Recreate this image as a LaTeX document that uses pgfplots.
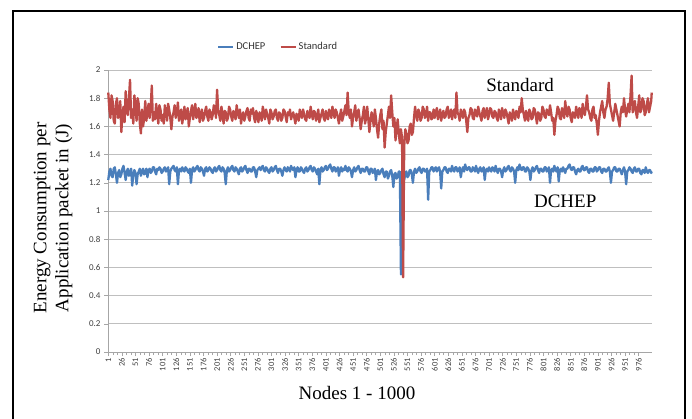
\documentclass[border=0pt]{standalone}
\usepackage{fontspec}
\setmainfont{Liberation Serif}
\newfontfamily\calfont{Carlito}
\usepackage{pgfplots}
\pgfplotsset{compat=1.18}
\definecolor{dblue}{HTML}{4A7EBB}
\definecolor{sred}{HTML}{BE4B48}
\definecolor{gridc}{HTML}{BFBFBF}
\definecolor{axc}{HTML}{A6A6A6}

\begin{document}
\begin{tikzpicture}
\useasboundingbox (0pt,0pt) rectangle (692pt,418pt);
\fill[white] (0pt,0pt) rectangle (692pt,418pt);
\draw[line width=2.2pt] (13pt,-5pt) -- (13pt,407pt) -- (685pt,407pt) -- (685pt,-5pt);
\begin{axis}[
  at={(108pt,66pt)}, anchor=south west, scale only axis,
  width=544pt, height=282pt,
  xmin=0.5, xmax=1000.5, ymin=0, ymax=2,
  axis x line*=bottom, axis y line*=left,
  axis line style={axc, line width=0.8pt, -},
  ytick={0,0.2,0.4,0.6,0.8,1,1.2,1.4,1.6,1.8,2},
  xtick={1,26,...,976},
  minor x tick num=2,
  ymajorgrids,
  major grid style={gridc, line width=0.9pt},
  tick align=outside, major tick length=4pt, minor tick length=3pt,
  tick style={axc, line width=0.6pt},
  xticklabel style={rotate=90, anchor=east, font=\calfont\fontsize{8.5}{9}\selectfont, text=black!75, inner sep=2pt},
  yticklabel style={font=\calfont\fontsize{9}{10}\selectfont, text=black!75},
  /pgf/number format/assume math mode=true,
  /pgf/number format/set thousands separator={},
  legend style={at={(0.3125,1.0816)}, anchor=center, draw=none, fill=none,
    font=\calfont\fontsize{10.5}{12}\selectfont, text=black!80,
    /tikz/every even column/.append style={column sep=12pt}},
  legend columns=2,
  legend image code/.code={\draw[#1] (0pt,0pt) -- (15pt,0pt);},
  clip=false,
]
\addplot[dblue, line width=2.3pt, line join=round] coordinates {
(1,1.22) (3,1.28) (5,1.30) (7,1.25) (9,1.24) (11,1.30) (13,1.31) (15,1.26) (17,1.20) (19,1.27)
(21,1.29) (23,1.24) (25,1.26) (27,1.30) (29,1.32) (31,1.27) (33,1.22) (35,1.28) (37,1.30) (39,1.25)
(41,1.27) (43,1.30) (45,1.18) (47,1.26) (49,1.29) (51,1.27) (53,1.19) (55,1.26) (57,1.28) (59,1.30)
(61,1.25) (63,1.28) (65,1.30) (67,1.26) (69,1.27) (71,1.30) (73,1.24) (75,1.29) (77,1.30) (79,1.27)
(81,1.28) (83,1.31) (85,1.31) (87,1.28) (89,1.26) (91,1.30) (93,1.29) (95,1.31) (97,1.30) (99,1.27)
(101,1.28) (103,1.30) (105,1.31) (107,1.28) (109,1.29) (111,1.31) (113,1.19) (115,1.28) (117,1.30) (119,1.31)
(121,1.32) (123,1.29) (125,1.28) (127,1.31) (129,1.19) (131,1.29) (133,1.30) (135,1.28) (137,1.31) (139,1.29)
(141,1.28) (143,1.31) (145,1.30) (147,1.28) (149,1.27) (151,1.30) (153,1.20) (155,1.29) (157,1.31) (159,1.28)
(161,1.29) (163,1.31) (165,1.32) (167,1.29) (169,1.28) (171,1.31) (173,1.30) (175,1.28) (177,1.25) (179,1.30)
(181,1.31) (183,1.28) (185,1.29) (187,1.31) (189,1.30) (191,1.28) (193,1.27) (195,1.30) (197,1.31) (199,1.28)
(201,1.29) (203,1.31) (205,1.32) (207,1.29) (209,1.28) (211,1.31) (213,1.30) (215,1.27) (217,1.19) (219,1.29)
(221,1.31) (223,1.28) (225,1.29) (227,1.31) (229,1.32) (231,1.29) (233,1.28) (235,1.31) (237,1.30) (239,1.28)
(241,1.26) (243,1.30) (245,1.31) (247,1.28) (249,1.29) (251,1.31) (253,1.32) (255,1.29) (257,1.27) (259,1.30)
(261,1.30) (263,1.28) (265,1.28) (267,1.31) (269,1.31) (271,1.28) (273,1.24) (275,1.29) (277,1.30) (279,1.31)
(281,1.29) (283,1.31) (285,1.32) (287,1.29) (289,1.28) (291,1.31) (293,1.30) (295,1.28) (297,1.27) (299,1.30)
(301,1.31) (303,1.28) (305,1.29) (307,1.31) (309,1.32) (311,1.29) (313,1.27) (315,1.30) (317,1.30) (319,1.28)
(321,1.25) (323,1.29) (325,1.31) (327,1.29) (329,1.28) (331,1.31) (333,1.30) (335,1.28) (337,1.32) (339,1.30)
(341,1.29) (343,1.31) (345,1.24) (347,1.29) (349,1.31) (351,1.28) (353,1.28) (355,1.31) (357,1.30) (359,1.28)
(361,1.27) (363,1.30) (365,1.31) (367,1.28) (369,1.29) (371,1.31) (373,1.32) (375,1.29) (377,1.28) (379,1.31)
(381,1.30) (383,1.28) (385,1.26) (387,1.30) (389,1.19) (391,1.29) (393,1.31) (395,1.28) (397,1.29) (399,1.31)
(401,1.32) (403,1.29) (405,1.30) (407,1.32) (409,1.33) (411,1.30) (413,1.28) (415,1.31) (417,1.31) (419,1.28)
(421,1.29) (423,1.31) (425,1.25) (427,1.29) (429,1.31) (431,1.28) (433,1.30) (435,1.29) (437,1.32) (439,1.29)
(441,1.28) (443,1.31) (445,1.30) (447,1.28) (449,1.24) (451,1.29) (453,1.31) (455,1.28) (457,1.29) (459,1.31)
(461,1.32) (463,1.29) (465,1.27) (467,1.30) (469,1.30) (471,1.28) (473,1.28) (475,1.31) (477,1.31) (479,1.28)
(481,1.26) (483,1.30) (485,1.30) (487,1.27) (489,1.28) (491,1.30) (493,1.22) (495,1.28) (497,1.29) (499,1.26)
(501,1.27) (503,1.29) (505,1.30) (507,1.26) (509,1.24) (511,1.28) (513,1.28) (515,1.23) (517,1.25) (519,1.28)
(521,1.29) (523,1.25) (525,1.17) (527,1.26) (529,1.27) (531,1.23) (533,1.24) (535,1.28) (537,1.28) (539,0.55)
(541,1.26) (543,1.28) (545,1.22) (547,1.27) (549,1.28) (551,1.24) (553,1.25) (555,1.29) (557,1.29) (559,1.26)
(561,1.20) (563,1.28) (565,1.30) (567,1.27) (569,1.28) (571,1.30) (573,1.31) (575,1.28) (577,1.27) (579,1.30)
(581,1.30) (583,1.28) (585,1.28) (587,1.30) (589,1.08) (591,1.28) (593,1.29) (595,1.31) (597,1.31) (599,1.28)
(601,1.30) (603,1.31) (605,1.28) (607,1.30) (609,1.31) (611,1.28) (613,1.16) (615,1.28) (617,1.29) (619,1.31)
(621,1.31) (623,1.28) (625,1.27) (627,1.30) (629,1.30) (631,1.28) (633,1.32) (635,1.29) (637,1.28) (639,1.31)
(641,1.31) (643,1.28) (645,1.29) (647,1.31) (649,1.24) (651,1.29) (653,1.31) (655,1.28) (657,1.33) (659,1.30)
(661,1.29) (663,1.31) (665,1.31) (667,1.28) (669,1.28) (671,1.31) (673,1.30) (675,1.28) (677,1.32) (679,1.29)
(681,1.27) (683,1.30) (685,1.31) (687,1.28) (689,1.29) (691,1.31) (693,1.22) (695,1.29) (697,1.30) (699,1.28)
(701,1.31) (703,1.29) (705,1.28) (707,1.31) (709,1.30) (711,1.28) (713,1.32) (715,1.29) (717,1.27) (719,1.30)
(721,1.30) (723,1.28) (725,1.24) (727,1.29) (729,1.31) (731,1.28) (733,1.29) (735,1.31) (737,1.32) (739,1.29)
(741,1.28) (743,1.31) (745,1.30) (747,1.28) (749,1.20) (751,1.29) (753,1.31) (755,1.29) (757,1.33) (759,1.30)
(761,1.29) (763,1.31) (765,1.31) (767,1.28) (769,1.28) (771,1.31) (773,1.30) (775,1.28) (777,1.22) (779,1.29)
(781,1.31) (783,1.28) (785,1.29) (787,1.31) (789,1.32) (791,1.29) (793,1.27) (795,1.30) (797,1.30) (799,1.28)
(801,1.28) (803,1.31) (805,1.31) (807,1.28) (809,1.29) (811,1.31) (813,1.20) (815,1.29) (817,1.30) (819,1.28)
(821,1.32) (823,1.29) (825,1.28) (827,1.31) (829,1.21) (831,1.29) (833,1.30) (835,1.28) (837,1.31) (839,1.29)
(841,1.27) (843,1.30) (845,1.30) (847,1.32) (849,1.33) (851,1.30) (853,1.29) (855,1.31) (857,1.31) (859,1.28)
(861,1.26) (863,1.29) (865,1.30) (867,1.28) (869,1.28) (871,1.31) (873,1.32) (875,1.29) (877,1.29) (879,1.31)
(881,1.31) (883,1.28) (885,1.27) (887,1.30) (889,1.30) (891,1.28) (893,1.28) (895,1.31) (897,1.31) (899,1.28)
(901,1.29) (903,1.31) (905,1.31) (907,1.28) (909,1.27) (911,1.30) (913,1.30) (915,1.28) (917,1.28) (919,1.30)
(921,1.31) (923,1.28) (925,1.20) (927,1.28) (929,1.29) (931,1.31) (933,1.31) (935,1.28) (937,1.28) (939,1.30)
(941,1.30) (943,1.28) (945,1.26) (947,1.29) (949,1.31) (951,1.28) (953,1.19) (955,1.28) (957,1.29) (959,1.31)
(961,1.30) (963,1.28) (965,1.27) (967,1.30) (969,1.31) (971,1.28) (973,1.28) (975,1.30) (977,1.30) (979,1.27)
(981,1.26) (983,1.29) (985,1.29) (987,1.27) (989,1.31) (991,1.28) (993,1.27) (995,1.29) (997,1.29) (999,1.27) (1000,1.28)
};
\addlegendentry{DCHEP}
\addplot[sred, line width=2.3pt, line join=round] coordinates {
(1,1.84) (3,1.72) (5,1.66) (7,1.82) (9,1.78) (11,1.64) (13,1.62) (15,1.76) (17,1.80) (19,1.66)
(21,1.70) (23,1.78) (25,1.56) (27,1.68) (29,1.74) (31,1.63) (33,1.85) (35,1.72) (37,1.68) (39,1.80)
(41,1.93) (43,1.66) (45,1.72) (47,1.62) (49,1.82) (51,1.74) (53,1.64) (55,1.80) (57,1.76) (59,1.62)
(61,1.55) (63,1.72) (65,1.60) (67,1.66) (69,1.78) (71,1.64) (73,1.70) (75,1.76) (77,1.66) (79,1.74)
(81,1.89) (83,1.64) (85,1.70) (87,1.65) (89,1.76) (91,1.70) (93,1.62) (95,1.75) (97,1.72) (99,1.64)
(101,1.68) (103,1.62) (105,1.75) (107,1.70) (109,1.64) (111,1.76) (113,1.72) (115,1.66) (117,1.58) (119,1.67)
(121,1.70) (123,1.75) (125,1.66) (127,1.70) (129,1.77) (131,1.64) (133,1.67) (135,1.72) (137,1.62) (139,1.68)
(141,1.74) (143,1.65) (145,1.69) (147,1.73) (149,1.60) (151,1.66) (153,1.71) (155,1.75) (157,1.65) (159,1.70)
(161,1.76) (163,1.66) (165,1.68) (167,1.73) (169,1.63) (171,1.69) (173,1.72) (175,1.64) (177,1.66) (179,1.71)
(181,1.74) (183,1.67) (185,1.64) (187,1.72) (189,1.70) (191,1.65) (193,1.68) (195,1.75) (197,1.73) (199,1.66)
(201,1.86) (203,1.72) (205,1.68) (207,1.64) (209,1.74) (211,1.69) (213,1.62) (215,1.71) (217,1.70) (219,1.64)
(221,1.66) (223,1.74) (225,1.72) (227,1.67) (229,1.64) (231,1.71) (233,1.69) (235,1.65) (237,1.75) (239,1.70)
(241,1.66) (243,1.72) (245,1.62) (247,1.67) (249,1.70) (251,1.64) (253,1.67) (255,1.71) (257,1.73) (259,1.66)
(261,1.64) (263,1.72) (265,1.69) (267,1.73) (269,1.66) (271,1.63) (273,1.71) (275,1.68) (277,1.63) (279,1.70)
(281,1.68) (283,1.64) (285,1.74) (287,1.70) (289,1.65) (291,1.72) (293,1.69) (295,1.66) (297,1.62) (299,1.72)
(301,1.70) (303,1.65) (305,1.67) (307,1.71) (309,1.72) (311,1.66) (313,1.64) (315,1.70) (317,1.69) (319,1.64)
(321,1.66) (323,1.72) (325,1.71) (327,1.67) (329,1.63) (331,1.70) (333,1.68) (335,1.72) (337,1.65) (339,1.68)
(341,1.70) (343,1.66) (345,1.62) (347,1.69) (349,1.67) (351,1.64) (353,1.72) (355,1.68) (357,1.66) (359,1.72)
(361,1.69) (363,1.65) (365,1.64) (367,1.71) (369,1.68) (371,1.66) (373,1.74) (375,1.69) (377,1.65) (379,1.71)
(381,1.70) (383,1.64) (385,1.67) (387,1.72) (389,1.63) (391,1.66) (393,1.69) (395,1.72) (397,1.66) (399,1.64)
(401,1.71) (403,1.67) (405,1.65) (407,1.72) (409,1.69) (411,1.66) (413,1.74) (415,1.70) (417,1.66) (419,1.72)
(421,1.70) (423,1.66) (425,1.62) (427,1.68) (429,1.72) (431,1.64) (433,1.67) (435,1.71) (437,1.75) (439,1.68)
(441,1.84) (443,1.70) (445,1.66) (447,1.72) (449,1.60) (451,1.66) (453,1.70) (455,1.75) (457,1.64) (459,1.69)
(461,1.72) (463,1.66) (465,1.58) (467,1.64) (469,1.68) (471,1.74) (473,1.62) (475,1.66) (477,1.74) (479,1.65)
(481,1.56) (483,1.64) (485,1.70) (487,1.66) (489,1.60) (491,1.72) (493,1.66) (495,1.58) (497,1.52) (499,1.62)
(501,1.68) (503,1.72) (505,1.58) (507,1.64) (509,1.45) (511,1.56) (513,1.62) (515,1.68) (517,1.74) (519,1.66)
(521,1.82) (523,1.70) (525,1.60) (527,1.66) (529,1.50) (531,1.58) (533,1.65) (535,1.55) (537,1.48) (539,1.58)
(541,1.52) (543,0.53) (545,1.46) (547,1.58) (549,1.55) (551,1.48) (553,1.50) (555,1.60) (557,1.62) (559,1.54)
(561,1.56) (563,1.66) (565,1.74) (567,1.68) (569,1.64) (571,1.72) (573,1.70) (575,1.64) (577,1.66) (579,1.74)
(581,1.72) (583,1.66) (585,1.68) (587,1.74) (589,1.64) (591,1.70) (593,1.70) (595,1.65) (597,1.66) (599,1.72)
(601,1.66) (603,1.70) (605,1.73) (607,1.65) (609,1.68) (611,1.72) (613,1.64) (615,1.69) (617,1.71) (619,1.66)
(621,1.67) (623,1.72) (625,1.74) (627,1.66) (629,1.69) (631,1.72) (633,1.65) (635,1.70) (637,1.72) (639,1.66)
(641,1.84) (643,1.70) (645,1.68) (647,1.64) (649,1.72) (651,1.69) (653,1.66) (655,1.72) (657,1.70) (659,1.64)
(661,1.56) (663,1.66) (665,1.68) (667,1.73) (669,1.72) (671,1.66) (673,1.65) (675,1.72) (677,1.70) (679,1.67)
(681,1.74) (683,1.70) (685,1.67) (687,1.64) (689,1.71) (691,1.73) (693,1.66) (695,1.70) (697,1.73) (699,1.65)
(701,1.68) (703,1.73) (705,1.72) (707,1.67) (709,1.66) (711,1.71) (713,1.70) (715,1.66) (717,1.64) (719,1.72)
(721,1.69) (723,1.65) (725,1.73) (727,1.69) (729,1.66) (731,1.72) (733,1.70) (735,1.66) (737,1.62) (739,1.70)
(741,1.68) (743,1.64) (745,1.72) (747,1.68) (749,1.65) (751,1.71) (753,1.70) (755,1.66) (757,1.74) (759,1.70)
(761,1.80) (763,1.72) (765,1.68) (767,1.64) (769,1.71) (771,1.67) (773,1.64) (775,1.72) (777,1.70) (779,1.65)
(781,1.66) (783,1.73) (785,1.72) (787,1.67) (789,1.62) (791,1.70) (793,1.69) (795,1.64) (797,1.66) (799,1.74)
(801,1.72) (803,1.67) (805,1.66) (807,1.72) (809,1.70) (811,1.68) (813,1.75) (815,1.70) (817,1.64) (819,1.66)
(821,1.54) (823,1.64) (825,1.68) (827,1.74) (829,1.72) (831,1.66) (833,1.65) (835,1.73) (837,1.70) (839,1.66)
(841,1.78) (843,1.70) (845,1.67) (847,1.74) (849,1.72) (851,1.66) (853,1.63) (855,1.70) (857,1.69) (859,1.66)
(861,1.74) (863,1.70) (865,1.66) (867,1.73) (869,1.71) (871,1.66) (873,1.76) (875,1.70) (877,1.68) (879,1.74)
(881,1.82) (883,1.72) (885,1.70) (887,1.66) (889,1.64) (891,1.72) (893,1.74) (895,1.66) (897,1.68) (899,1.62)
(901,1.54) (903,1.64) (905,1.70) (907,1.74) (909,1.78) (911,1.70) (913,1.66) (915,1.72) (917,1.74) (919,1.80)
(921,1.91) (923,1.76) (925,1.72) (927,1.68) (929,1.64) (931,1.70) (933,1.76) (935,1.72) (937,1.68) (939,1.64)
(941,1.60) (943,1.70) (945,1.74) (947,1.70) (949,1.80) (951,1.72) (953,1.67) (955,1.72) (957,1.76) (959,1.70)
(961,1.82) (963,1.96) (965,1.70) (967,1.74) (969,1.78) (971,1.70) (973,1.66) (975,1.74) (977,1.82) (979,1.70)
(981,1.72) (983,1.80) (985,1.78) (987,1.68) (989,1.70) (991,1.76) (993,1.80) (995,1.70) (997,1.74) (999,1.78) (1000,1.84)
};
\addlegendentry{Standard}
\node[anchor=base, font=\fontsize{19}{22}\selectfont] at (axis cs:758,1.844) {Standard};
\node[anchor=base, font=\fontsize{19}{22}\selectfont] at (axis cs:841,1.028) {DCHEP};
\end{axis}
\node[anchor=base, font=\fontsize{19}{22}\selectfont] at (357pt,19pt) {Nodes 1 - 1000};
\node[rotate=90, align=center, font=\fontsize{19}{22}\selectfont] at (53pt,200pt) {Energy Consumption per\\Application packet in (J)};
\end{tikzpicture}
\end{document}
